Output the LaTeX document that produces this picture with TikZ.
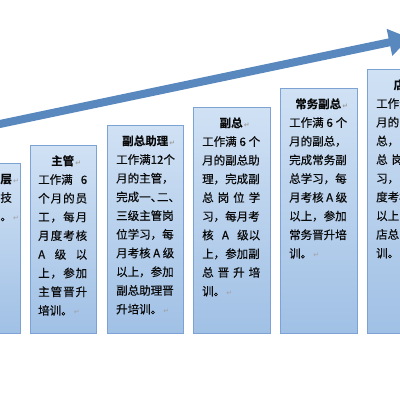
\documentclass[tikz,border=0pt]{standalone}
\usepackage{fontspec}
\setmainfont{Noto Sans CJK SC}[FakeBold=0.5, BoldFont=* Bold, BoldFeatures={FakeBold=0.3}]
\newfontfamily\djv{DejaVu Sans}
\usetikzlibrary{arrows.meta}
\definecolor{arrowcol}{RGB}{88,136,190}
\definecolor{boxtop}{RGB}{208,225,244}
\definecolor{boxbot}{RGB}{160,192,229}
\definecolor{boxline}{RGB}{124,163,211}
\definecolor{retgray}{RGB}{160,160,160}
\definecolor{txtcol}{RGB}{10,10,10}
\newcommand\rmk{{\djv\fontsize{7}{7}\selectfont\color{retgray}\,↵}}
\newcommand\jl[1]{\makebox[\hsize][s]{\spaceskip=0pt plus 1fil\relax #1}}
\newcommand\ttl[1]{\noindent\rule{0pt}{10pt}\makebox[\hsize]{\bfseries #1\rlap{\rmk}}}
\tikzset{
  box/.style={draw=boxline, line width=1.1pt, top color=boxtop, bottom color=boxbot,
    minimum width=77pt, anchor=north west, inner sep=0pt},
  txt/.style={inner sep=0pt, anchor=north west, text width=58pt, align=left,
    text=txtcol, font=\fontsize{11.5}{18.7}\selectfont},
  bigarrow/.style={line width=8pt, draw=arrowcol,
    -{Triangle[length=21pt,width=26pt]}},
}
\begin{document}
\begin{tikzpicture}[x=1pt,y=-1pt]
\useasboundingbox (0,0) rectangle (400,400);
\clip (0,0) rectangle (400,400);
\fill[white] (0,0) rectangle (400,400);
% arrow
\coordinate (as) at (-5,125);
\coordinate (ae) at (410,38);
\draw[bigarrow] (as) -- (ae);
% boxes
\node[box, minimum height=170pt] (b1) at (-57,163) {};
\node[box, minimum width=66pt, minimum height=188pt] (b2) at (30,145) {};
\node[box, minimum width=76pt, minimum height=208pt] (b3) at (107,125) {};
\node[box, minimum height=226pt] (b4) at (193,107) {};
\node[box, minimum height=245pt] (b5) at (280,88) {};
\node[box, minimum height=264pt] (b6) at (367,69) {};
% texts
\node[txt, text width=40pt, align=right, anchor=north east] (t1)
  at ([xshift=-9pt,yshift=-10pt]b1.north east)
  {\rule{0pt}{10pt}\textbf{层}\rlap{\rmk}\\ 技\\ 。\rlap{\rmk}};
\node[txt, text width=49pt] (t2) at ([xshift=8pt,yshift=-10pt]b2.north west)
  {\ttl{主管}\\
   \jl{工作满 6}\\
   \jl{个 月 的 员}\\
   \jl{工 ， 每 月}\\
   \jl{月 度 考 核}\\
   \jl{A 级 以}\\
   \jl{上 ， 参 加}\\
   \jl{主 管 晋 升}\\
   培训。\rmk};
\node[txt] (t3) at ([xshift=9pt,yshift=-10pt]b3.north west)
  {\ttl{副总助理}\\
   \jl{工作满12个}\\
   \jl{月的主管，}\\
   \jl{完成一、\kern-.45em 二、\kern-.45em}\\
   \jl{三级主管岗}\\
   \jl{位学习，每}\\
   \jl{月考核 A 级}\\
   \jl{以上，参加}\\
   \jl{副总助理晋}\\
   升培训。\rmk};
\node[txt] (t4) at ([xshift=9pt,yshift=-10pt]b4.north west)
  {\ttl{副总}\\
   \jl{工作满 6 个}\\
   \jl{月的副总助}\\
   \jl{理，完成副}\\
   \jl{总 岗 位 学}\\
   \jl{习，每月考}\\
   \jl{核 A 级以}\\
   \jl{上，参加副}\\
   \jl{总 晋 升 培}\\
   训。\rmk};
\node[txt] (t5) at ([xshift=9pt,yshift=-10pt]b5.north west)
  {\ttl{常务副总}\\
   \jl{工作满 6 个}\\
   \jl{月的副总，}\\
   \jl{完成常务副}\\
   \jl{总学习，每}\\
   \jl{月考核 A 级}\\
   \jl{以上，参加}\\
   \jl{常务晋升培}\\
   训。\rmk};
\node[txt] (t6) at ([xshift=9pt,yshift=-10pt]b6.north west)
  {\ttl{店总}\\
   工作满\\
   月的\\
   总，\\
   总\hspace{4pt}岗\\
   习，\\
   度考核\\
   以上\\
   店总\\
   训。\rmk};
\end{tikzpicture}
\end{document}
